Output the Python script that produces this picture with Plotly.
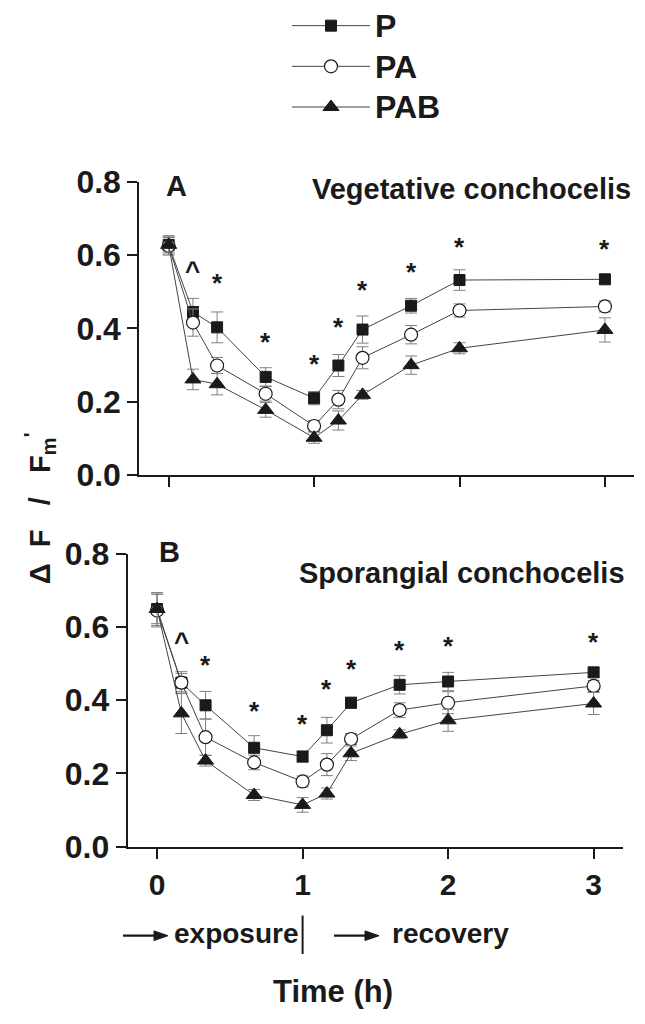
import plotly.graph_objects as go

# ---------------- data ----------------
time_h = [0, 0.167, 0.333, 0.667, 1, 1.167, 1.333, 1.667, 2, 3]
series_names = ["P", "PA", "PAB"]

# Panel A: Vegetative conchocelis
veg_P = [0.628, 0.445, 0.403, 0.268, 0.210, 0.299, 0.397, 0.462, 0.532, 0.534]
veg_P_err = [0.025, 0.037, 0.042, 0.025, 0.018, 0.030, 0.037, 0.020, 0.028, 0.010]
veg_PA = [0.625, 0.416, 0.299, 0.222, 0.134, 0.206, 0.320, 0.383, 0.449, 0.460]
veg_PA_err = [0.025, 0.037, 0.022, 0.020, 0.015, 0.025, 0.030, 0.025, 0.018, 0.015]
veg_PAB = [0.628, 0.261, 0.248, 0.178, 0.102, 0.149, 0.219, 0.300, 0.346, 0.396]
veg_PAB_err = [0.020, 0.028, 0.029, 0.020, 0.015, 0.026, 0.012, 0.025, 0.015, 0.033]

# Panel B: Sporangial conchocelis
spo_P = [0.649, 0.448, 0.386, 0.270, 0.246, 0.318, 0.393, 0.442, 0.451, 0.476]
spo_P_err = [0.045, 0.030, 0.038, 0.033, 0.015, 0.035, 0.015, 0.025, 0.025, 0.012]
spo_PA = [0.645, 0.448, 0.299, 0.230, 0.178, 0.224, 0.294, 0.373, 0.393, 0.439]
spo_PA_err = [0.045, 0.025, 0.050, 0.020, 0.015, 0.030, 0.015, 0.020, 0.030, 0.015]
spo_PAB = [0.649, 0.364, 0.235, 0.141, 0.114, 0.145, 0.255, 0.307, 0.345, 0.391]
spo_PAB_err = [0.040, 0.055, 0.015, 0.015, 0.020, 0.015, 0.020, 0.012, 0.030, 0.030]

# significance marks
sig_time = [0.167, 0.333, 0.667, 1, 1.167, 1.333, 1.667, 2, 3]
sig_text = ["^", "*", "*", "*", "*", "*", "*", "*", "*"]
veg_sig_y = [0.567, 0.534, 0.373, 0.313, 0.414, 0.515, 0.566, 0.633, 0.628]
spo_sig_y = [0.569, 0.507, 0.382, 0.345, 0.441, 0.496, 0.549, 0.560, 0.571]

x_ticks = [0, 1, 2, 3]
y_ticks = [0.0, 0.2, 0.4, 0.6, 0.8]

# ---------------- styling ----------------
W, H = 645, 1024
FONT = "Liberation Sans, Arial, Helvetica, sans-serif"
INK = "#1a1a1a"
markers = {
    "P": dict(symbol="square", size=11, color=INK, line=dict(color=INK, width=1)),
    "PA": dict(symbol="circle", size=13, color="white", line=dict(color=INK, width=1.2)),
    "PAB": dict(symbol="triangle-up", size=14, color=INK, line=dict(color=INK, width=1)),
}


def px(x, y):
    return x / W, 1 - y / H


fig = go.Figure()

panels = [
    ("x", "y", [veg_P, veg_PA, veg_PAB], [veg_P_err, veg_PA_err, veg_PAB_err], True),
    ("x2", "y2", [spo_P, spo_PA, spo_PAB], [spo_P_err, spo_PA_err, spo_PAB_err], False),
]
for xa, ya, vals, errs, show in panels:
    for name, v, e in zip(series_names, vals, errs):
        fig.add_trace(go.Scatter(
            x=time_h, y=v, mode="lines+markers",
            name="<span style='font-size:32px'>" + name + "</span>",
            xaxis=xa, yaxis=ya, showlegend=show, legendgroup=name,
            line=dict(color="#444444", width=1),
            marker=markers[name],
            error_y=dict(type="data", array=e, visible=True, color="#808080", thickness=1, width=6),
        ))

axis_common = dict(
    showline=True, linecolor=INK, linewidth=2, ticks="outside", ticklen=10,
    tickwidth=2, tickcolor=INK, showgrid=False, zeroline=False, mirror=False,
)

fig.update_layout(
    width=W, height=H, autosize=False,
    margin=dict(l=0, r=0, t=0, b=0),
    paper_bgcolor="white", plot_bgcolor="white",
    font=dict(family=FONT, color=INK),
    xaxis=dict(domain=[139.3 / W, 634.3 / W], range=[-0.202, 3.202], anchor="y",
               tickvals=x_ticks, showticklabels=False, **axis_common),
    yaxis=dict(domain=[1 - 472.7 / H, 1 - 168.0 / H], range=[0, 0.8], anchor="x",
               tickvals=y_ticks, tickformat=".1f",
               tickfont=dict(size=32, weight="bold", family=FONT), **axis_common),
    xaxis2=dict(domain=[127.7 / W, 623.0 / W], range=[-0.202, 3.202], anchor="y2",
                tickvals=x_ticks, tickfont=dict(size=30, weight="bold", family=FONT), **axis_common),
    yaxis2=dict(domain=[1 - 858.5 / H, 1 - 554.3 / H], range=[0, 0.8], anchor="x2",
                tickvals=y_ticks, tickformat=".1f",
                tickfont=dict(size=32, weight="bold", family=FONT), **axis_common),
    legend=dict(x=px(287, 0)[0], y=1.020, xanchor="left", yanchor="top",
                font=dict(size=29, weight="bold", family=FONT), itemwidth=78,
                bgcolor="rgba(0,0,0,0)", tracegroupgap=0),
)

ann = []
# significance marks
for xa, ya, ys in [("x", "y", veg_sig_y), ("x2", "y2", spo_sig_y)]:
    for t, s, yv in zip(sig_time, sig_text, ys):
        ann.append(dict(x=t, y=yv, xref=xa, yref=ya, text=s, showarrow=False,
                        xanchor="center", yanchor="middle",
                        font=dict(size=26, weight="bold", family=FONT), yshift=-4))

# panel letters and titles
for text, (x, y), anchor, size in [
    ("A", (176.5, 172), "center", 29),
    ("B", (169, 553), "center", 29),
    ("Vegetative conchocelis", (310, 176), "left", 29),
    ("Sporangial conchocelis", (297, 574), "left", 29),
]:
    xp, yp = px(x, y)
    ann.append(dict(x=xp, y=yp, xref="paper", yref="paper", text=text, showarrow=False,
                    xanchor=anchor, yanchor="middle",
                    font=dict(size=size, weight="bold", family=FONT)))

# y-axis title
xp, yp = px(40, 507)
nb = "\u00a0"
ann.append(dict(x=xp, y=yp, xref="paper", yref="paper", textangle=-90, showarrow=False,
                xanchor="center", yanchor="middle",
                text="Δ" + nb * 2 + "F" + nb * 3 + "/" + nb * 3 + "F<sub>m</sub><sup>'</sup>",
                font=dict(size=29, weight="bold", family=FONT)))

shapes = []
# exposure / recovery labels and arrows (arrows drawn as shapes)
ARROW_Y = 951
for x_head, x_tail, label, x_lab in [(168, 123, "exposure", 172), (379, 334, "recovery", 390)]:
    x0, y0 = px(x_tail, ARROW_Y)
    x1, _ = px(x_head - 10, ARROW_Y)
    shapes.append(dict(type="line", xref="paper", yref="paper", x0=x0, x1=x1, y0=y0, y1=y0,
                       line=dict(color=INK, width=2.2)))
    ax1, ay1 = px(x_head - 14, ARROW_Y - 5)
    ax2, ay2 = px(x_head, ARROW_Y)
    ax3, ay3 = px(x_head - 14, ARROW_Y + 5)
    shapes.append(dict(type="path", xref="paper", yref="paper",
                       path=f"M {ax1} {ay1} L {ax2} {ay2} L {ax3} {ay3} Z",
                       fillcolor=INK, line=dict(color=INK, width=1)))
    xl, yl = px(x_lab, 949)
    ann.append(dict(x=xl, y=yl, xref="paper", yref="paper", text=label, showarrow=False,
                    xanchor="left", yanchor="middle",
                    font=dict(size=28, weight="bold", family=FONT)))

xp, yp = px(333, 1009)
ann.append(dict(x=xp, y=yp, xref="paper", yref="paper", text="Time (h)", showarrow=False,
                xanchor="center", yanchor="middle",
                font=dict(size=31, weight="bold", family=FONT)))

# phase separator at t = 1 below panel B
shapes.append(dict(type="line", xref="x2", yref="paper", x0=1, x1=1,
                   y0=1 - 970 / H, y1=1 - 930 / H, line=dict(color=INK, width=2)))

fig.update_layout(annotations=ann, shapes=shapes)

fig.write_html("out.html", config={"displayModeBar": False},
               post_script="document.body.style.margin='0px';")
